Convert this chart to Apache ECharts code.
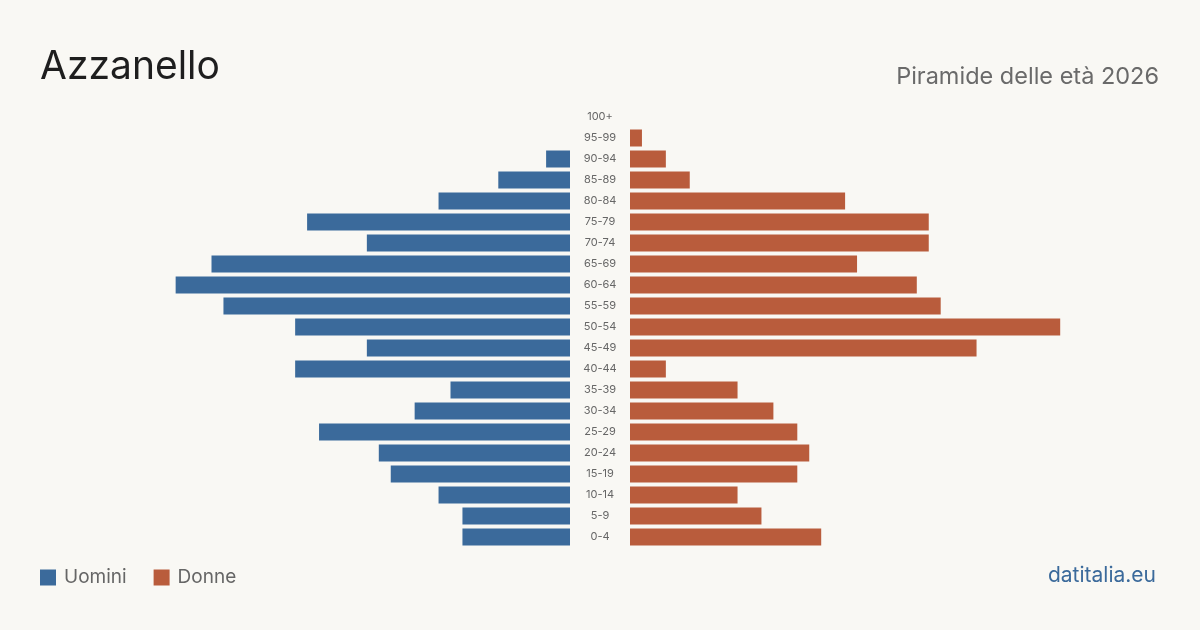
<!DOCTYPE html>
<html><head><meta charset="utf-8">
<script src="https://cdn.jsdelivr.net/npm/echarts@6/dist/echarts.min.js"></script>
<style>html,body{margin:0;padding:0;background:#f9f8f4}#c{width:1200px;height:630px}</style>
</head><body><div id="c"></div>
<script>
const ageGroups = ['0-4','5-9','10-14','15-19','20-24','25-29','30-34','35-39','40-44','45-49','50-54','55-59','60-64','65-69','70-74','75-79','80-84','85-89','90-94','95-99','100+'];
const men   = [9, 9, 11, 15, 16, 21, 13, 10, 23, 17, 23, 29, 33, 30, 17, 22, 11, 6, 2, 0, 0];
const women = [16, 11, 9, 14, 15, 14, 12, 9, 3, 29, 36, 26, 24, 19, 25, 25, 18, 5, 3, 1, 0];
const title = 'Azzanello';
const subtitle = 'Piramide delle età 2026';
const source = 'datitalia.eu';
const seriesNames = ['Uomini', 'Donne'];
const colors = ['#3b6a9b', '#b95c3c'];

const chart = echarts.init(document.getElementById('c'));
const font = 'Inter, Roboto, sans-serif';
chart.setOption({
  backgroundColor: '#f9f8f4',
  animation: false,
  textStyle: { fontFamily: font },
  grid: [
    { left: 92, width: 478, top: 106.5, height: 441 },
    { left: 630, width: 478, top: 106.5, height: 441 }
  ],
  xAxis: [
    { gridIndex: 0, type: 'value', inverse: true, min: 0, max: 40, show: false },
    { gridIndex: 1, type: 'value', min: 0, max: 40, show: false }
  ],
  yAxis: [
    { gridIndex: 0, type: 'category', data: ageGroups, position: 'right',
      axisLine: { show: false }, axisTick: { show: false }, splitLine: { show: false },
      axisLabel: { show: true, align: 'center', margin: 30, color: '#666', fontSize: 11, fontFamily: font } },
    { gridIndex: 1, type: 'category', data: ageGroups, show: false }
  ],
  legend: {
    left: 40, top: 568, padding: 0, itemWidth: 16, itemHeight: 16, itemGap: 27, icon: 'rect',
    textStyle: { color: '#666', fontSize: 19, fontFamily: font, padding: [0, 0, 0, 3] },
    data: seriesNames
  },
  color: colors,
  series: [
    { name: seriesNames[0], type: 'bar', xAxisIndex: 0, yAxisIndex: 0, data: men, barWidth: 17, itemStyle: { color: colors[0] } },
    { name: seriesNames[1], type: 'bar', xAxisIndex: 1, yAxisIndex: 1, data: women, barWidth: 17, itemStyle: { color: colors[1] } }
  ],
  graphic: [
    { type: 'text', left: 40, top: 48, style: { text: title, fill: '#1e1e1e', font: '39px ' + font } },
    { type: 'text', right: 41, top: 65, style: { text: subtitle, fill: '#6a6a6a', font: '23.5px ' + font } },
    { type: 'text', right: 44, top: 565, style: { text: source, fill: '#3b6a9b', font: '21px ' + font } }
  ]
});
</script></body></html>
